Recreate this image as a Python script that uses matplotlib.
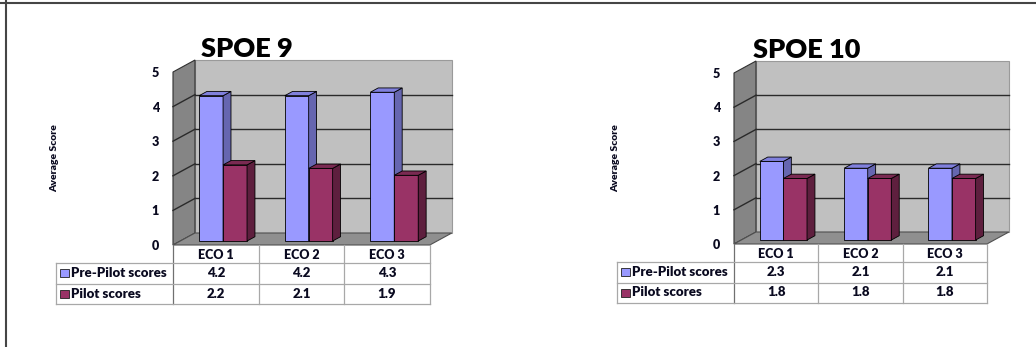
import matplotlib
matplotlib.use('Agg')
import matplotlib.pyplot as plt
from matplotlib.patches import Polygon, Rectangle
from matplotlib.lines import Line2D

# ---------------- data ----------------
categories = ['ECO 1', 'ECO 2', 'ECO 3']
series_names = ['Pre-Pilot scores', 'Pilot scores']
spoe9_pre = [4.2, 4.2, 4.3]
spoe9_pilot = [2.2, 2.1, 1.9]
spoe10_pre = [2.3, 2.1, 2.1]
spoe10_pilot = [1.8, 1.8, 1.8]
y_ticks = [0, 1, 2, 3, 4, 5]
titles = ['SPOE 9', 'SPOE 10']
y_label = 'Average Score'

# ---------------- style ----------------
FONT = ['Lato', 'DejaVu Sans']
plt.rcParams['font.family'] = FONT
TXT = '#0a0a20'
WT = 'heavy'
FRONT = ['#9999FF', '#993366']
SIDE = ['#6666B0', '#5E1F3E']
TOP = ['#8080DD', '#7A2A52']
W, H = 1036, 347

fig = plt.figure(figsize=(10.36, 3.47), dpi=100)


def chart(title, pre, pilot, x0, xpx, y0, ypx, lab_left_px, title_px, ylab_px):
    xa = (lab_left_px - 10 - x0) / xpx
    xb = 3.45
    ya = -64 / ypx
    yb = 6.3
    ax = fig.add_axes([(x0 + xa * xpx) / W, (H - (y0 - ya * ypx)) / H,
                       (xb - xa) * xpx / W, (yb - ya) * ypx / H])
    ax.set_xlim(xa, xb)
    ax.set_ylim(ya, yb)
    ax.patch.set_alpha(0)
    for sp in ax.spines.values():
        sp.set_visible(False)
    ax.spines['left'].set_position(('data', 0))
    ax.set_xticks([])
    ax.set_yticks(y_ticks)
    ax.tick_params(axis='y', length=0, pad=10, labelsize=9, labelcolor=TXT)
    for t in ax.get_yticklabels():
        t.set_fontweight(WT)

    ddx, ddy = 22 / xpx, 12 / ypx
    top = max(y_ticks)
    ncat = len(categories)

    # walls and floor
    ax.add_patch(Polygon([(ddx, ddy), (ncat + ddx, ddy), (ncat + ddx, top + ddy), (ddx, top + ddy)],
                         closed=True, facecolor='#C0C0C0', edgecolor='#9a9a9a', lw=0.8, zorder=1))
    ax.add_patch(Polygon([(0, 0), (ddx, ddy), (ddx, top + ddy), (0, top)],
                         closed=True, facecolor='#858585', edgecolor='#303030', lw=0.8, zorder=1))
    ax.add_patch(Polygon([(0, 0), (ncat, 0), (ncat + ddx, ddy), (ddx, ddy)],
                         closed=True, facecolor='#8F8F8F', edgecolor='#505050', lw=0.8, zorder=1))
    for v in y_ticks[1:-1]:
        ax.plot([ddx, ncat + ddx], [v + ddy, v + ddy], color='#2a2a2a', lw=1.0, zorder=2)
        ax.plot([0, ddx], [v, v + ddy], color='#2a2a2a', lw=1.0, zorder=2)

    # 3D-looking bars
    bw, off, d0, d1 = 0.28, 0.22, 0.33, 0.69
    dd = d1 - d0
    for s, vals in enumerate([pre, pilot]):
        z = 3 + 3 * s
        xs = [i + off + s * bw + d0 * ddx for i in range(ncat)]
        ax.bar(xs, vals, width=bw, bottom=d0 * ddy, align='edge', color=FRONT[s],
               edgecolor='black', linewidth=0.6, zorder=z)
        for xl, v in zip(xs, vals):
            xr = xl + bw
            yb0, yt = d0 * ddy, d0 * ddy + v
            ax.add_patch(Polygon([(xr, yb0), (xr + dd * ddx, yb0 + dd * ddy),
                                  (xr + dd * ddx, yt + dd * ddy), (xr, yt)], closed=True,
                                 facecolor=SIDE[s], edgecolor='black', lw=0.6, zorder=z + 1))
            ax.add_patch(Polygon([(xl, yt), (xr, yt), (xr + dd * ddx, yt + dd * ddy),
                                  (xl + dd * ddx, yt + dd * ddy)], closed=True,
                                 facecolor=TOP[s], edgecolor='black', lw=0.6, zorder=z + 1))

    # data table
    r0, r1, r2, r3 = 0, -18 / ypx, -38.5 / ypx, -58.5 / ypx
    xt = (lab_left_px - x0) / xpx
    lc = '#a8a8a8'
    for i in range(ncat + 1):
        ax.plot([i, i], [r0, r3], color=lc if i else '#707070', lw=0.9, zorder=2, clip_on=False)
    ax.plot([xt, xt], [r1, r3], color=lc, lw=0.9, clip_on=False)
    for r in (r1, r2, r3):
        ax.plot([xt, ncat], [r, r], color=lc, lw=0.9, clip_on=False)
    for i, c in enumerate(categories):
        ax.text(i + 0.5, (r0 + r1) / 2 - 0.02, c, ha='center', va='center', fontsize=9,
                fontweight=WT, color=TXT)
    rows = [(r1, r2), (r2, r3)]
    for s, vals in enumerate([pre, pilot]):
        ym = sum(rows[s]) / 2
        ax.add_patch(Rectangle((xt + 4 / xpx, ym - 4 / ypx), 9 / xpx, 8 / ypx,
                               facecolor=FRONT[s], edgecolor='#202020', lw=0.6, clip_on=False))
        ax.text(xt + 15 / xpx, ym, series_names[s], ha='left', va='center', fontsize=9.5,
                fontweight=WT, color=TXT)
        for i, v in enumerate(vals):
            ax.text(i + 0.5, ym, f'{v:.1f}', ha='center', va='center', fontsize=9.5,
                    fontweight=WT, color=TXT)

    ax.text((ylab_px - x0) / xpx, (y0 - 158) / ypx, y_label, rotation=90, ha='center',
            va='center', fontsize=7.5, fontweight=WT, color=TXT)
    ax.text((title_px[0] - x0) / xpx, (y0 - title_px[1]) / ypx, title, ha='center',
            va='center', fontsize=19.5, fontweight=WT, color='black')


chart(titles[0], spoe9_pre, spoe9_pilot, 173, 85.6, 245, 34.6, 56, (247, 49), 55)
chart(titles[1], spoe10_pre, spoe10_pilot, 734, 84.3, 244, 34.2, 617, (807, 50), 616)

fig.add_artist(Line2D([0, 1], [1 - 2.5 / H] * 2, transform=fig.transFigure, color='#454545', lw=1.5))
fig.add_artist(Line2D([6 / W] * 2, [0, 1], transform=fig.transFigure, color='#454545', lw=1.5))

fig.savefig('out.png', dpi=100, facecolor='white')
